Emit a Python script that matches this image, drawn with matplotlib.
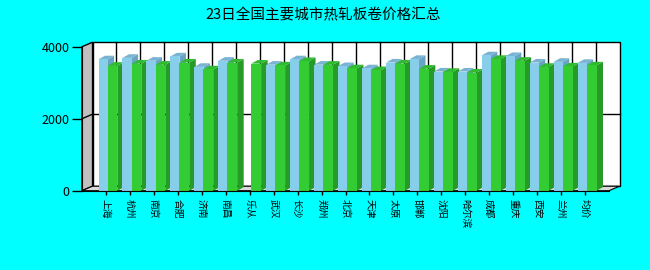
import numpy as np
import matplotlib.pyplot as plt
from matplotlib.patches import Polygon

plt.rcParams['font.family'] = ['Noto Sans CJK SC', 'DejaVu Sans']

cities = ['上海', '杭州', '南京', '合肥', '济南', '南昌', '乐从', '武汉', '长沙', '郑州',
          '北京', '天津', '太原', '邯郸', '沈阳', '哈尔滨', '成都', '重庆', '西安', '兰州', '均价']
prev = [3650, 3690, 3610, 3730, 3440, 3610, np.nan, 3500, 3650, 3500,
        3460, 3400, 3560, 3660, 3310, 3310, 3760, 3740, 3560, 3580, 3550]
today = [3470, 3530, 3500, 3560, 3370, 3560, 3530, 3480, 3600, 3500,
         3400, 3350, 3530, 3390, 3300, 3280, 3660, 3610, 3440, 3450, 3480]

title = '23日全国主要城市热轧板卷价格汇总'

# depth of the box and of the bars (data units)
DX, DY = 0.44, 125
BX, BY = 0.27, 100
XMAX, YMAX = 22, 4000

fig = plt.figure(figsize=(6.5, 2.7), dpi=100, facecolor='#00FFFF')
ax = fig.add_axes([82 / 650, 79.3 / 270, 527 / 650, 144 / 270])
ax.set_xlim(0, XMAX)
ax.set_ylim(0, YMAX)
ax.patch.set_visible(False)


def poly(pts, fc, z, ec='none', lw=0.8):
    ax.add_patch(Polygon(pts, closed=True, facecolor=fc, edgecolor=ec, lw=lw,
                         zorder=z, clip_on=False))


# walls
poly([(DX, DY), (XMAX + DX, DY), (XMAX + DX, YMAX + DY), (DX, YMAX + DY)], 'white', 0, 'black', 1)
poly([(0, 0), (DX, DY), (DX, YMAX + DY), (0, YMAX)], '#C0C0C0', 0.2, 'black', 1)
poly([(0, 0), (XMAX, 0), (XMAX + DX, DY), (DX, DY)], '#DADADA', 0.2, 'black', 0.8)

for k in range(1, XMAX):
    ax.plot([k + DX, k + DX], [DY, YMAX + DY], color='black', lw=1, zorder=0.5, clip_on=False)
ax.plot([DX, XMAX + DX], [2000 + DY, 2000 + DY], color='black', lw=1, zorder=0.5, clip_on=False)
ax.plot([0, DX], [2000, 2000 + DY], color='black', lw=1, zorder=0.5, clip_on=False)


def bar3d(x0, w, h, front, top, side, z):
    if np.isnan(h):
        return
    ax.bar(x0, h, width=w, align='edge', color=front, zorder=z + 0.2, clip_on=False)
    poly([(x0 + w, 0), (x0 + w + BX, BY), (x0 + w + BX, h + BY), (x0 + w, h)], side, z)
    poly([(x0, h), (x0 + w, h), (x0 + w + BX, h + BY), (x0 + BX, h + BY)], top, z + 0.1)


pos = np.arange(1, len(cities) + 1)
for i, p in enumerate(pos):
    z = 2 + i
    bar3d(p - 0.31, 0.38, prev[i], '#87CEEB', '#78B4D2', '#6AA4C4', z)
    bar3d(p + 0.07, 0.41, today[i], '#33CC33', '#2EBB2E', '#279B27', z + 0.5)

ax.spines['top'].set_visible(False)
ax.spines['right'].set_visible(False)
ax.spines['left'].set_zorder(50)
ax.spines['bottom'].set_zorder(50)

ax.set_yticks([0, 2000, 4000])
ax.tick_params(axis='y', length=7, width=1, labelsize=9, pad=2)
ax.set_xticks(pos)
ax.set_xticklabels(cities, rotation=-90, fontsize=7, va='top')
ax.tick_params(axis='x', length=3, width=1, pad=3)

fig.text(0.497, 0.945, title, ha='center', va='center', fontsize=10.5)

fig.savefig('out.png', dpi=100, facecolor=fig.get_facecolor())
